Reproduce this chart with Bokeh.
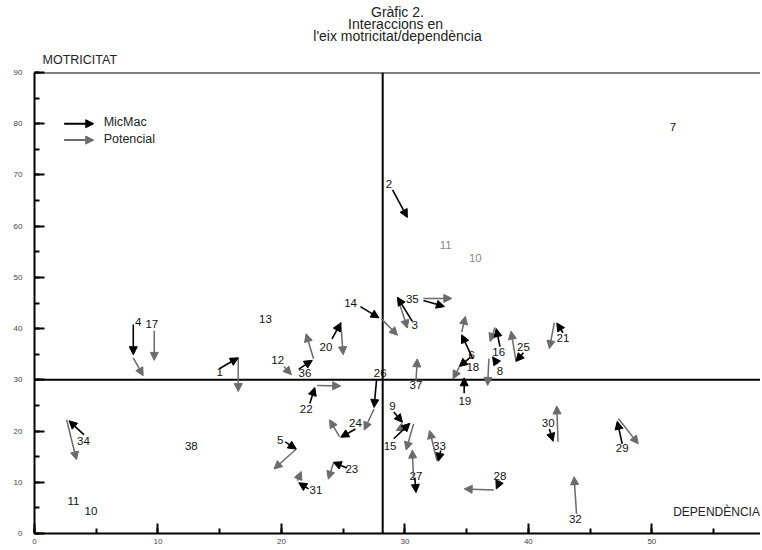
from bokeh.plotting import figure
from bokeh.models import (Arrow, NormalHead, ColumnDataSource, Span, Title,
                          SingleIntervalTicker, Range1d)
from bokeh.core.properties import value
from bokeh.embed import file_html
from bokeh.resources import INLINE

# ---------------- data ----------------
TITLE_LINES = ["Gràfic 2.", "Interaccions  en", "l'eix motricitat/dependència"]
Y_LABEL = "MOTRICITAT"
X_LABEL = "DEPENDÈNCIA"
MEAN_DEP = 28.2   # vertical reference line
MEAN_MOT = 30.0   # horizontal reference line

# variable labels (black)
lab_text = ["7", "2", "14", "35", "3", "13", "4", "17", "12", "36", "20", "1", "26",
            "6", "18", "16", "8", "25", "21", "37", "19", "22", "9", "24", "30",
            "34", "38", "5", "15", "33", "29", "23", "27", "28", "31", "11", "10", "32"]
lab_x = [51.7, 28.7, 25.6, 30.6, 30.8, 18.7, 8.4, 9.5, 19.7, 21.9, 23.6, 15.0, 28.0,
         35.4, 35.5, 37.6, 37.7, 39.6, 42.8, 30.9, 34.85, 22.0, 29.0, 26.0, 41.6,
         3.97, 12.7, 19.9, 28.8, 32.8, 47.6, 25.7, 30.9, 37.7, 22.8, 3.16, 4.57, 43.8]
lab_y = [79.3, 68.2, 45.0, 45.7, 40.8, 41.8, 41.3, 40.9, 33.8, 31.4, 36.4, 31.6, 31.3,
         34.9, 32.5, 35.4, 31.8, 36.5, 38.2, 28.9, 25.8, 24.4, 24.8, 21.6, 21.6,
         18.1, 17.0, 18.3, 17.1, 17.1, 16.6, 12.5, 11.3, 11.3, 8.5, 6.4, 4.4, 2.8]

# grey labels
glab_text = ["11", "10"]
glab_x = [33.3, 35.7]
glab_y = [56.4, 53.7]

# MicMac displacements (black arrows)
mm_id = ["1", "2", "3", "4", "5", "6", "8", "9", "14", "15", "16", "18", "19", "20", "21",
         "22", "23", "24", "25", "26", "27", "28", "29", "30", "31", "33", "34", "35", "36"]
mm_x0 = [15.0, 29.0, 30.6, 8.0, 20.3, 35.5, 37.5, 29.1, 26.4, 29.1, 37.7, 35.3, 34.8, 24.1, 42.8,
         22.3, 25.3, 26.0, 39.6, 27.7, 30.8, 37.7, 47.6, 41.7, 22.2, 32.9, 4.0, 31.5, 21.4]
mm_y0 = [32.2, 67.1, 41.4, 40.8, 17.9, 34.1, 33.1, 23.7, 44.3, 18.5, 36.5, 34.4, 27.4, 38.0, 39.2,
         25.4, 12.8, 20.4, 35.3, 29.9, 10.9, 10.3, 17.5, 20.4, 8.7, 16.2, 19.3, 45.5, 32.1]
mm_x1 = [16.5, 30.2, 29.4, 8.0, 21.2, 34.6, 37.1, 29.8, 27.9, 30.4, 37.4, 34.4, 34.8, 24.8, 42.3,
         22.7, 24.2, 24.8, 39.0, 27.5, 30.9, 37.4, 47.2, 42.0, 21.4, 32.7, 2.8, 33.2, 22.5]
mm_y1 = [34.3, 61.7, 46.1, 34.9, 16.5, 38.8, 34.5, 21.7, 42.1, 21.5, 40.0, 32.6, 30.4, 41.1, 41.1,
         28.5, 13.9, 18.8, 33.6, 24.6, 8.0, 8.7, 21.9, 18.0, 9.9, 14.1, 22.0, 44.3, 33.8]

# Potencial displacements (grey arrows)
pt_id = ["1", "3", "4", "5", "6", "8", "9", "12", "14", "15", "16", "17", "18", "20", "21",
         "22", "23", "24", "25", "26", "27", "28", "29", "30", "31", "32", "33", "34", "35",
         "36", "37"]
pt_x0 = [16.5, 29.4, 8.0, 21.2, 34.6, 36.8, 30.4, 20.2, 28.1, 30.7, 37.3, 9.7, 34.4, 24.8, 42.1,
         22.9, 24.2, 24.7, 39.0, 27.5, 30.7, 37.2, 47.3, 42.4, 21.3, 43.9, 32.6, 2.6, 31.5,
         22.6, 30.9]
pt_y0 = [34.3, 46.1, 34.3, 16.5, 39.3, 34.1, 21.5, 32.6, 41.9, 21.4, 40.2, 39.6, 32.5, 41.3, 41.1,
         28.9, 13.7, 18.9, 33.6, 24.3, 10.6, 8.5, 22.4, 17.9, 10.3, 3.8, 14.2, 22.2, 45.9,
         34.1, 29.9]
pt_x1 = [16.5, 30.2, 8.8, 19.4, 34.9, 36.7, 29.3, 20.8, 29.4, 30.1, 36.9, 9.7, 33.9, 25.0, 41.7,
         24.8, 23.8, 23.9, 38.6, 26.7, 30.6, 34.8, 48.9, 42.3, 21.6, 43.7, 32.0, 3.4, 33.8,
         22.0, 31.0]
pt_y1 = [27.7, 40.1, 30.8, 12.6, 42.4, 28.9, 20.1, 31.0, 38.7, 16.3, 37.5, 33.8, 30.2, 34.9, 36.1,
         28.8, 10.6, 22.2, 39.5, 20.2, 16.3, 8.7, 17.5, 24.9, 12.1, 11.1, 20.1, 14.4, 45.9,
         39.0, 34.1]

legend_names = ["MicMac", "Potencial"]

# ---------------- styles ----------------
FONT = "Liberation Sans"
BLACK = "#000000"
GREY = "#6b6b6b"
GREY_TXT = "#8a8a8a"

p = figure(width=760, height=548, output_backend="svg", toolbar_location=None, title=None,
           x_range=Range1d(0, 58.8), y_range=Range1d(0, 90),
           min_border_left=34, min_border_right=0, min_border_top=72, min_border_bottom=15)
p.outline_line_color = None
p.background_fill_color = "white"
p.xgrid.visible = False
p.ygrid.visible = False

for ax in (p.xaxis[0], p.yaxis[0]):
    ax.ticker = SingleIntervalTicker(interval=10, num_minor_ticks=2)
    ax.axis_line_width = 2
    ax.axis_line_color = BLACK
    ax.major_tick_line_width = 2
    ax.minor_tick_line_width = 2
    ax.major_tick_in = 10
    ax.major_tick_out = 0
    ax.minor_tick_in = 5
    ax.minor_tick_out = 0
    ax.major_label_text_font = FONT
    ax.major_label_text_font_size = "8px"
    ax.major_label_text_color = "#444444"
p.yaxis.major_label_standoff = 12
p.xaxis.major_label_standoff = 5

# titles (first added is nearest the frame)
p.add_layout(Title(text=Y_LABEL, align="left", offset=8, standoff=12, text_font=FONT,
                   text_font_size="12.5px", text_font_style="normal", text_line_height=0.9,
                   text_color="#222222"), "above")
p.add_layout(Title(text="\n".join(TITLE_LINES), align="center", standoff=0, text_font=FONT,
                   text_font_size="14px", text_font_style="normal", text_line_height=0.78,
                   text_align="center", text_color="#222222"), "above")

# reference lines
p.add_layout(Span(location=MEAN_DEP, dimension="height", line_color=BLACK, line_width=2))
p.add_layout(Span(location=MEAN_MOT, dimension="width", line_color=BLACK, line_width=2))
p.add_layout(Span(location=90, dimension="width", line_color=BLACK, line_width=2))

# arrows
mm_src = ColumnDataSource(dict(x0=mm_x0, y0=mm_y0, x1=mm_x1, y1=mm_y1))
pt_src = ColumnDataSource(dict(x0=pt_x0, y0=pt_y0, x1=pt_x1, y1=pt_y1))
p.add_layout(Arrow(source=pt_src, x_start="x0", y_start="y0", x_end="x1", y_end="y1",
                   line_color=GREY, line_width=1.5,
                   end=NormalHead(size=8, fill_color=GREY, line_color=GREY, line_width=1)))
p.add_layout(Arrow(source=mm_src, x_start="x0", y_start="y0", x_end="x1", y_end="y1",
                   line_color=BLACK, line_width=1.6,
                   end=NormalHead(size=8, fill_color=BLACK, line_color=BLACK, line_width=1)))

# labels
p.text(x=lab_x, y=lab_y, text=lab_text, text_align="center", text_baseline="middle",
       text_font=value(FONT), text_font_size="11.5px", text_color="#111111")
p.text(x=glab_x, y=glab_y, text=glab_text, text_align="center", text_baseline="middle",
       text_font=value(FONT), text_font_size="11.5px", text_color=GREY_TXT)

# legend (drawn manually as in the original)
leg_src_mm = ColumnDataSource(dict(x0=[2.4], y0=[80.0], x1=[4.8], y1=[80.0]))
leg_src_pt = ColumnDataSource(dict(x0=[2.4], y0=[76.8], x1=[4.8], y1=[76.8]))
p.add_layout(Arrow(source=leg_src_mm, x_start="x0", y_start="y0", x_end="x1", y_end="y1",
                   line_color=BLACK, line_width=2,
                   end=NormalHead(size=8, fill_color=BLACK, line_color=BLACK, line_width=1)))
p.add_layout(Arrow(source=leg_src_pt, x_start="x0", y_start="y0", x_end="x1", y_end="y1",
                   line_color=GREY, line_width=2,
                   end=NormalHead(size=8, fill_color=GREY, line_color=GREY, line_width=1)))
p.text(x=[5.6, 5.6], y=[80.3, 77.1], text=legend_names, text_align="left", text_baseline="middle",
       text_font=value(FONT), text_font_size="12.5px", text_color="#222222")

# axis caption on the right
p.text(x=[58.75], y=[4.2], text=[X_LABEL], text_align="right", text_baseline="middle",
       text_font=value(FONT), text_font_size="12px", text_color="#222222")

open("out.html", "w").write(file_html(p, INLINE))
